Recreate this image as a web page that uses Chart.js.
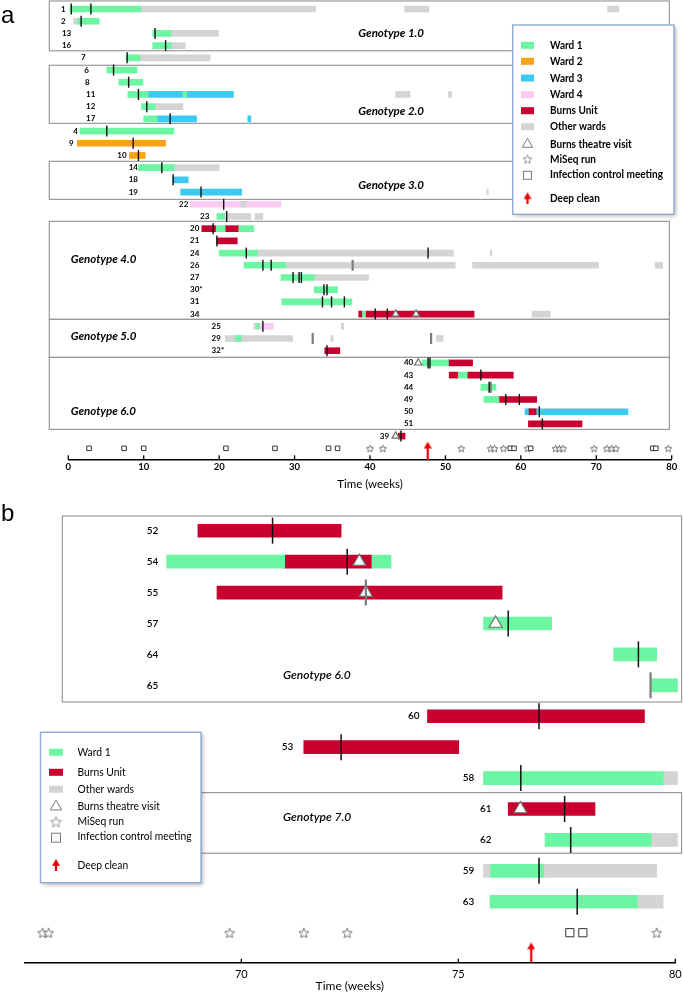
<!DOCTYPE html>
<html><head><meta charset="utf-8">
<script src="https://cdn.jsdelivr.net/npm/chart.js@4.4.1/dist/chart.umd.min.js"></script>
<style>
html,body{margin:0;padding:0;background:#fff;}
#wrapA{position:absolute;left:0;top:0;width:683px;height:495px;}
#wrapB{position:absolute;left:0;top:500px;width:683px;height:492px;}
canvas{display:block;}
</style></head><body>
<div id="wrapA"><canvas id="chartA" width="683" height="495"></canvas></div>
<div id="wrapB"><canvas id="chartB" width="683" height="492"></canvas></div>
<script>
// ================= DATA : panel a =================
const rowsA = ['1','2','13','16','7','6','8','11','12','17','4','9','10','14','18','19','22','23','20','21','24','26','27','30*','31','34','25','29','32*','40','43','44','49','50','51','39'];
const ticksA = [0,10,20,30,40,50,60,70,80];
const ward1A = [['1',0.2,9.7],['2',1.15,4.1],['13',11.2,13.7],['16',11.2,13.7],['7',7.65,9.6],['6',5.1,9.1],['8',6.7,9.9],['11',7.9,10.6],['11',15.2,15.7],['12',9.7,11.6],['17',10.0,11.8],['4',1.55,14.0],['14',9.3,14.1],['23',19.7,20.8],['20',19.6,20.8],['20',22.6,24.6],['24',20.0,25.15],['26',23.3,28.9],['27',28.2,32.7],['30*',32.6,35.7],['31',28.3,37.6],['34',39.0,39.4],['25',24.9,25.3],['29',22.1,23.0],['40',46.9,50.4],['43',51.7,52.9],['44',54.7,56.7],['49',55.1,57.1]];
const ward2A = [['9',1.2,12.9],['10',8.1,10.2]];
const ward3A = [['11',10.6,15.2],['11',15.7,21.9],['17',11.8,17.0],['17',23.8,24.2],['18',13.85,15.9],['19',14.9,23.0],['50',60.55,61.0],['50',62.1,74.2]];
const ward4A = [['22',16.2,22.9],['22',23.6,28.2],['25',25.3,27.2]];
const burnsA = [['20',17.7,19.6],['20',20.8,22.6],['21',19.7,22.4],['34',38.5,39.0],['34',39.4,53.8],['32*',34.0,36.0],['40',50.4,53.6],['43',50.5,51.7],['43',52.9,59.0],['49',57.1,62.1],['50',61.0,62.1],['51',61.0,68.1],['39',43.75,44.65]];
const otherA = [['1',9.7,32.8],['1',44.6,47.8],['1',71.5,73.0],['2',0.7,1.15],['13',13.7,19.9],['16',13.7,15.5],['7',9.6,18.8],['11',43.4,45.3],['11',50.4,50.8],['12',11.6,15.2],['14',14.1,20.0],['19',55.5,55.7],['22',22.9,23.6],['23',20.8,24.2],['23',24.75,25.8],['24',25.15,51.05],['24',55.95,56.15],['26',28.9,51.3],['26',53.6,70.3],['26',77.8,78.8],['27',32.7,39.8],['34',61.5,63.9],['25',24.6,24.9],['25',36.2,36.5],['29',20.8,22.1],['29',23.0,29.75],['29',34.8,35.1],['29',48.8,49.7]];
const samplesA = [['1',0.4],['1',3.0],['2',1.7],['13',11.5],['16',12.9],['7',7.8],['6',6.0],['8',8.0],['11',9.3],['12',10.4],['17',13.5],['4',5.1],['9',8.6],['10',9.3],['14',12.4],['18',13.9],['19',17.6],['22',20.6],['23',21.0],['20',19.2],['21',19.7],['24',23.6],['24',47.7],['26',25.8],['26',26.9],['27',29.8],['27',30.6],['27',30.9],['30*',33.9],['30*',34.3],['31',33.7],['31',34.9],['31',36.6],['34',40.7],['34',42.3],['25',25.8],['32*',34.3],['40',47.7],['40',47.95],['43',54.7],['44',55.8],['49',58.0],['49',59.8],['50',62.45],['51',62.85],['39',44.1]];
const greyMarksA = [['26',37.7],['44',56.0],['29',32.4],['29',48.1]];
const theatreA = [['34',43.4],['34',46.1],['40',46.4],['39',43.4]];
const miseqA = [40.0,41.7,52.1,56.0,56.5,57.7,60.9,64.6,65.1,65.6,69.7,71.4,72.05,72.6,79.55];
const meetingsA = [2.75,7.4,10.0,20.9,27.4,34.5,35.7,58.6,59.1,61.3,77.5,77.9];
const deepCleanA = [47.65];
const genotypesA = ['Genotype 1.0','Genotype 2.0','Genotype 3.0','Genotype 4.0','Genotype 5.0','Genotype 6.0'];
const legendA = ['Ward 1','Ward 2','Ward 3','Ward 4','Burns Unit','Other wards','Burns theatre visit','MiSeq run','Infection control meeting','Deep clean'];

// ================= DATA : panel b =================
const rowsB = ['52','54','55','57','64','65','60','53','58','61','62','59','63'];
const ticksB = [70,75,80];
const ward1B = [['54',68.28,71.0],['54',73.01,73.45],['57',75.58,77.15],['64',78.58,79.57],['65',79.44,80.05],['58',75.58,79.74],['62',77.0,79.46],['59',75.73,76.98],['63',75.73,79.14]];
const burnsB = [['52',69.0,72.3],['54',71.0,73.01],['55',69.44,76.01],['60',74.29,79.29],['53',71.44,75.01],['61',76.15,78.15]];
const otherB = [['58',79.74,80.05],['62',79.46,80.05],['59',75.58,75.73],['59',76.98,79.57],['63',79.14,79.72]];
const samplesB = [['52',70.72],['54',72.44],['57',76.15],['64',79.15],['60',76.86],['53',72.3],['58',76.44],['61',77.45],['62',77.59],['59',76.86],['63',77.74]];
const greyMarksB = [['55',72.87],['65',79.43]];
const theatreB = [['54',72.72],['55',72.87],['57',75.86],['61',76.43]];
const miseqB = [65.42,65.56,69.73,71.44,72.44,79.57];
const meetingsB = [77.57,77.87];
const deepCleanB = [76.68];
const genotypesB = ['Genotype 6.0','Genotype 7.0'];
const legendB = ['Ward 1','Burns Unit','Other wards','Burns theatre visit','MiSeq run','Infection control meeting','Deep clean'];

// ================= STYLE / LAYOUT =================
const COL = {ward1:'#6cf5a2', ward2:'#f7a21b', ward3:'#3ccaf2', ward4:'#fbcbf3', burns:'#c9002f', other:'#d4d4d4'};
const FONT = 'Lato, "Open Sans", sans-serif';

const layoutA = {
  letter:'a', letterPos:[1,23], left:68.3, right:11.3, axisH:35.7, yMin:-0.74, yMax:36.9,
  symRow:36, arrowRow:36.19, barH:6, lineR:5.5, lineW:1.4, triR:4.2, sqR:3.2, starSize:9, arrow:[8,18],
  tickFont:{family:FONT,size:9.5,weight:'bold'}, tickPad:2.3, titleFont:{family:FONT,size:11.5,lineHeight:1}, titlePad:4.7,
  labelFont:'bold 8px '+FONT, labelSx:1,
  labelLeft:[-0.97,-0.97,-0.84,-0.84,1.68,2.11,2.2,2.35,2.35,2.35,0.66,0.09,6.5,8.0,8.0,8.0,14.68,17.46,16.14,16.14,16.14,16.14,16.14,16.14,16.14,16.14,19.0,19.0,19.0,44.5,44.5,44.5,44.5,44.5,44.5,41.3],
  boxes:[[-0.66,3.42],[4.61,9.37],[12.48,15.6],[17.4,25.43],[25.43,28.55],[28.55,34.45]], boxX:[-2.52,79.69],
  genoFont:'italic bold 11.5px '+FONT, genoW:69,
  genoText:[[38.45,1.97],[38.45,8.34],[38.45,14.48],[0.32,20.49],[0.32,26.86],[0.32,33.0]],
  legend:{x:512.7,y:25,w:161.3,h:189.3, swX:521, swW:13, swH:7, iconX:527.5, textX:550, font:'bold 11px '+FONT, widest:113,
    rows:[45.3,61.3,78,94.7,110.7,126.7,144.3,159,174.3,198.3],
    kinds:['ward1','ward2','ward3','ward4','burns','other','tri','star','sq','arrow'], triR:6, star:11, sq:4, arrow:[8,12]}
};
const layoutB = {
  letter:'b', letterPos:[1,21], left:24.3, right:7.7, axisH:29.3, yMin:-0.993, yMax:13.97,
  symRow:13, arrowRow:13.64, barH:13, lineR:13, lineW:1.5, triR:7.5, sqR:5.8, starSize:12, arrow:[8,20],
  tickFont:{family:FONT,size:11}, tickPad:5.6, titleFont:{family:FONT,size:12,lineHeight:1}, titlePad:0,
  labelFont:'600 10px '+FONT, labelSx:1,
  labelLeft:[67.82,67.82,67.82,67.82,67.82,67.82,73.84,70.93,75.10,75.50,75.50,75.10,75.10],
  boxes:[[-0.475,5.54],[8.47,10.43]], boxX:[65.876,80.145],
  genoFont:'italic 600 12px '+FONT, genoW:69,
  genoText:[[70.96,4.67],[70.96,9.27]],
  legend:{x:40.5,y:232.3,w:160.5,h:150.4, swX:49, swW:14, swH:7, iconX:56, textX:77.5, font:'11px '+FONT, widest:114,
    rows:[252.3,272.3,289.3,306.7,321.7,336.7,365],
    kinds:['ward1','burns','other','tri','star','sq','arrow'], triR:6.5, star:13, sq:4.5, arrow:[8,12]}
};

// ================= helpers =================
function starImage(size, color, lw){
  const c=document.createElement('canvas'); c.width=size; c.height=size;
  const g=c.getContext('2d'); const cx=size/2, cy=size/2+size*0.05, R=size/2-lw, r=R*0.45;
  g.beginPath();
  for(let i=0;i<10;i++){const a=-Math.PI/2+i*Math.PI/5; const rr=i%2?r:R; g.lineTo(cx+rr*Math.cos(a), cy+rr*Math.sin(a));}
  g.closePath(); g.fillStyle='#fff'; g.fill(); g.strokeStyle=color; g.lineWidth=lw; g.lineJoin='round'; g.stroke();
  return c;
}
function arrowImage(w,h,color){
  const c=document.createElement('canvas'); c.width=w; c.height=h;
  const g=c.getContext('2d'); g.fillStyle=color; const hh=w*0.85;
  g.beginPath(); g.moveTo(w/2,0); g.lineTo(w,hh); g.lineTo(0,hh); g.closePath(); g.fill();
  g.fillRect(w/2-1.1, hh-1, 2.2, h-hh+1);
  return c;
}
function segs(list, rows, color, L){
  return {type:'bar', indexAxis:'y', data:list.map(s=>({y:rows.indexOf(s[0]), x:[s[1],s[2]]})),
    backgroundColor:color, borderWidth:0, grouped:false, barThickness:L.barH, order:10, clip:false};
}
function pts(list, rows, style){
  return Object.assign({type:'scatter', showLine:false, clip:false,
    data:list.map(p=>({x:p[1], y:rows.indexOf(p[0])}))}, style);
}
function condText(ctx, t, x, y, sx){ctx.save(); ctx.translate(x,y); ctx.scale(sx,1); ctx.fillText(t,0,0); ctx.restore();}

function decorPlugin(rows, genos, legendLabels, L){
  return {
    id:'decor',
    beforeDatasetsDraw(chart){
      const ctx=chart.ctx, xs=chart.scales.x, ys=chart.scales.y;
      ctx.save(); ctx.strokeStyle='#9a9a9a'; ctx.lineWidth=1.2;
      const x0=xs.getPixelForValue(L.boxX[0]), x1=xs.getPixelForValue(L.boxX[1]);
      L.boxes.forEach(b=>{const y0=ys.getPixelForValue(b[0]), y1=ys.getPixelForValue(b[1]); ctx.strokeRect(x0,y0,x1-x0,y1-y0);});
      ctx.restore();
    },
    afterDatasetsDraw(chart){
      const ctx=chart.ctx, xs=chart.scales.x, ys=chart.scales.y;
      ctx.save(); ctx.fillStyle='#000'; ctx.textBaseline='middle'; ctx.textAlign='left';
      ctx.font=L.labelFont;
      rows.forEach((r,i)=>condText(ctx, r, xs.getPixelForValue(L.labelLeft[i]), ys.getPixelForValue(i), L.labelSx));
      ctx.font=L.genoFont;
      genos.forEach((g,i)=>{const w=ctx.measureText(g).width; condText(ctx, g, xs.getPixelForValue(L.genoText[i][0]), ys.getPixelForValue(L.genoText[i][1]), Math.min(1,L.genoW/w));});
      ctx.strokeStyle='#000'; ctx.lineWidth=1.3;
      xs.ticks.forEach(t=>{const x=xs.getPixelForValue(t.value); ctx.beginPath(); ctx.moveTo(x, chart.chartArea.bottom); ctx.lineTo(x, chart.chartArea.bottom-4); ctx.stroke();});
      ctx.restore();
    },
    afterDraw(chart){
      const ctx=chart.ctx, G=L.legend;
      ctx.save();
      ctx.font='24px "Liberation Sans", Arial, sans-serif'; ctx.fillStyle='#000'; ctx.textBaseline='alphabetic';
      ctx.fillText(L.letter, L.letterPos[0], L.letterPos[1]);
      ctx.shadowColor='rgba(0,0,0,0.28)'; ctx.shadowBlur=4; ctx.shadowOffsetX=2; ctx.shadowOffsetY=2;
      ctx.fillStyle='#fff'; ctx.fillRect(G.x,G.y,G.w,G.h);
      ctx.shadowColor='transparent';
      ctx.strokeStyle='#8eaad8'; ctx.lineWidth=1.4; ctx.strokeRect(G.x,G.y,G.w,G.h);
      ctx.font=G.font; ctx.textBaseline='middle'; ctx.fillStyle='#000';
      const sx=Math.min(1, G.widest/ctx.measureText('Infection control meeting').width);
      const star=starImage(G.star,'#8a8a8a',0.9), arr=arrowImage(G.arrow[0],G.arrow[1],'#f00000');
      G.kinds.forEach((k,i)=>{
        const cy=G.rows[i];
        if(COL[k]){ ctx.fillStyle=COL[k]; ctx.fillRect(G.swX, cy-G.swH/2, G.swW, G.swH); }
        else if(k==='tri'){ ctx.beginPath(); const r=G.triR; ctx.moveTo(G.iconX,cy-r); ctx.lineTo(G.iconX+r*0.866,cy+r/2); ctx.lineTo(G.iconX-r*0.866,cy+r/2); ctx.closePath(); ctx.strokeStyle='#7a7a7a'; ctx.lineWidth=1; ctx.stroke(); }
        else if(k==='star'){ ctx.drawImage(star, G.iconX-star.width/2, cy-star.height/2); }
        else if(k==='sq'){ ctx.strokeStyle='#7a7a7a'; ctx.lineWidth=1; ctx.strokeRect(G.iconX-G.sq, cy-G.sq+1, 2*G.sq, 2*G.sq); }
        else if(k==='arrow'){ ctx.drawImage(arr, G.iconX-arr.width/2, cy-arr.height/2); }
        ctx.fillStyle='#000';
        condText(ctx, legendLabels[i], G.textX, cy, sx);
      });
      ctx.restore();
    }
  };
}

function makeChart(id, rows, ticks, barSets, samples, greys, theatre, miseq, meetings, deep, genos, legendLabels, L){
  const symRow=L.symRow;
  const datasets = barSets.map(b=>segs(b[0], rows, b[1], L));
  datasets.push(pts(theatre, rows, {pointStyle:'triangle', pointRadius:L.triR, pointHoverRadius:L.triR, pointBackgroundColor:'#fff', pointBorderColor:'#6e6e6e', pointBorderWidth:1.2, order:6}));
  datasets.push(pts(greys, rows, {pointStyle:'line', pointRotation:90, pointRadius:L.lineR, pointHoverRadius:L.lineR, pointBorderColor:'#7d7d7d', pointBorderWidth:2.2, order:5}));
  datasets.push(pts(samples, rows, {pointStyle:'line', pointRotation:90, pointRadius:L.lineR, pointHoverRadius:L.lineR, pointBorderColor:'#111', pointBorderWidth:L.lineW, order:4}));
  datasets.push({type:'scatter', showLine:false, clip:false, data:miseq.map(v=>({x:v,y:symRow})), pointStyle:starImage(L.starSize,'#555',0.8), pointRadius:5, order:3});
  datasets.push({type:'scatter', showLine:false, clip:false, data:meetings.map(v=>({x:v,y:symRow})), pointStyle:'rect', pointRadius:L.sqR, pointHoverRadius:L.sqR, pointBackgroundColor:'#fff', pointBorderColor:'#333', pointBorderWidth:1, order:2});
  datasets.push({type:'scatter', showLine:false, clip:false, data:deep.map(v=>({x:v,y:L.arrowRow})), pointStyle:arrowImage(L.arrow[0],L.arrow[1],'#f00000'), pointRadius:5, order:1});
  return new Chart(document.getElementById(id), {
    type:'bar',
    data:{datasets},
    options:{
      indexAxis:'y', responsive:false, animation:false, devicePixelRatio:1, events:[],
      layout:{autoPadding:false, padding:{left:L.left, right:L.right, top:0, bottom:0}},
      plugins:{legend:{display:false}, tooltip:{enabled:false}},
      scales:{
        x:{type:'linear', position:'bottom', min:ticks[0]===0?0:65, max:80, offset:false,
          afterBuildTicks:s=>{s.ticks=ticks.map(v=>({value:v}));},
          afterFit:s=>{s.height=L.axisH; s.paddingLeft=0; s.paddingRight=0;},
          grid:{display:false, drawTicks:false},
          border:{display:true, color:'#000', width:1.5},
          ticks:{autoSkip:false, maxRotation:0, color:'#000', font:L.tickFont, padding:L.tickPad},
          title:{display:true, text:'Time (weeks)', color:'#000', font:L.titleFont, padding:{top:0,bottom:L.titlePad}}
        },
        y:{type:'linear', reverse:true, min:L.yMin, max:L.yMax, offset:false, display:false}
      }
    },
    plugins:[decorPlugin(rows, genos, legendLabels, L)]
  });
}

makeChart('chartA', rowsA, ticksA,
  [[otherA,COL.other],[ward1A,COL.ward1],[ward2A,COL.ward2],[ward3A,COL.ward3],[ward4A,COL.ward4],[burnsA,COL.burns]],
  samplesA, greyMarksA, theatreA, miseqA, meetingsA, deepCleanA, genotypesA, legendA, layoutA);
makeChart('chartB', rowsB, ticksB,
  [[otherB,COL.other],[ward1B,COL.ward1],[burnsB,COL.burns]],
  samplesB, greyMarksB, theatreB, miseqB, meetingsB, deepCleanB, genotypesB, legendB, layoutB);
</script>
</body></html>
